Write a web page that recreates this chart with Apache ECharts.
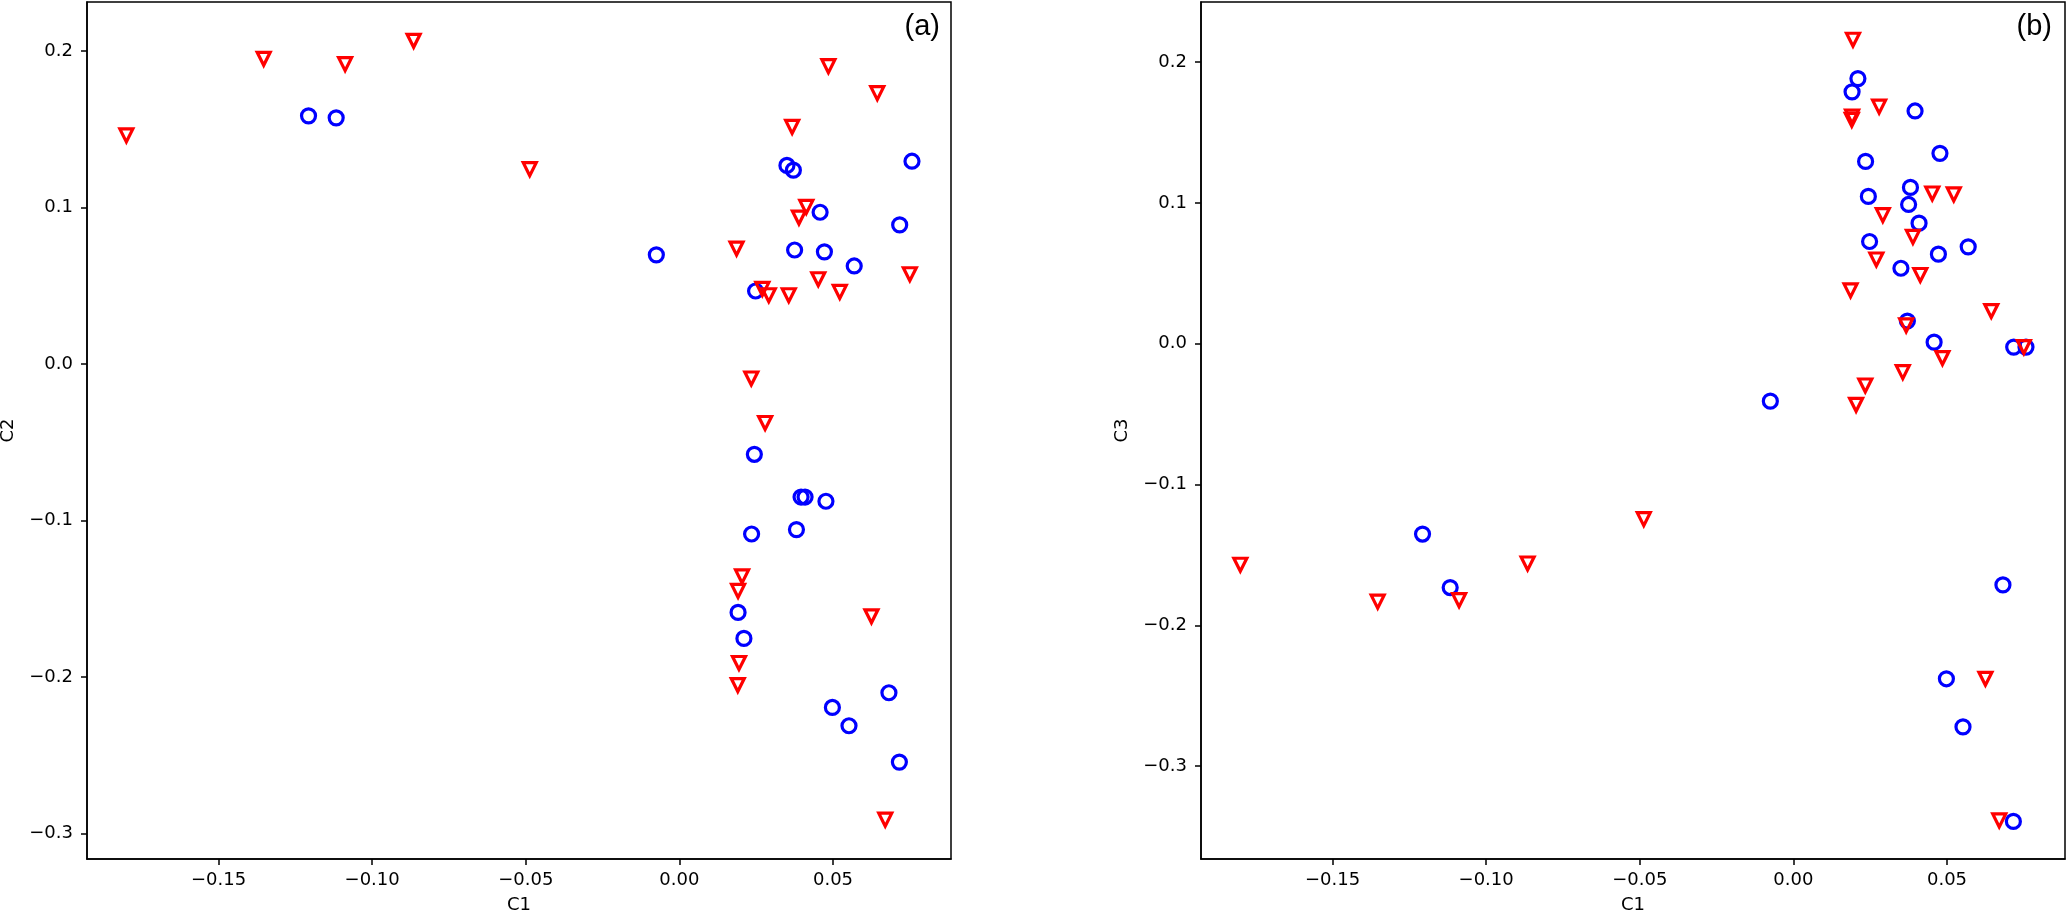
<!DOCTYPE html>
<html>
<head>
<meta charset="utf-8">
<script src="https://cdn.jsdelivr.net/npm/echarts@6/dist/echarts.min.js"></script>
<style>
  html, body { margin: 0; padding: 0; background: #fff; }
  #chart { width: 2067px; height: 915px; }
</style>
</head>
<body>
<div id="chart"></div>
<script>
// blue circles: C1, C2, C3 per sample
var circleC1 = [-0.1207, -0.1117, 0.0757, 0.0350, 0.0371, 0.0458, 0.0717, -0.0075, 0.0375, 0.0472, 0.0569, 0.0248,
                0.0244, 0.0396, 0.0409, 0.0477, 0.0381, 0.0235, 0.0191, 0.0210, 0.0682, 0.0498, 0.0552, 0.0716];
var circleC2 = [0.1585, 0.1572, 0.1295, 0.1268, 0.1238, 0.0969, 0.0888, 0.0697, 0.0728, 0.0716, 0.0626, 0.0466,
                -0.0577, -0.0850, -0.0850, -0.0877, -0.1058, -0.1086, -0.1587, -0.1753, -0.2100, -0.2194, -0.2311, -0.2543];
var circleC3 = [-0.1352, -0.1732, -0.0024, 0.0536, 0.0161, 0.0011, -0.0024, -0.0408, 0.0989, 0.0636, 0.0688, 0.0726,
                0.1046, 0.1653, 0.0856, 0.1352, 0.1110, 0.1295, 0.1789, 0.1883, -0.1713, -0.2380, -0.2722, -0.3393];

// red down-triangles
var triC1 = [-0.1800, -0.1353, -0.1088, -0.0865, -0.0487, 0.0485, 0.0644, 0.0367, 0.0413, 0.0389, 0.0186, 0.0750, 0.0452,
             0.0270, 0.0291, 0.0356, 0.0522, 0.0234, 0.0279, 0.0204, 0.0191, 0.0625, 0.0194, 0.0190, 0.0670];
var triC2 = [0.1460, 0.1949, 0.1915, 0.2064, 0.1244, 0.1902, 0.1730, 0.1514, 0.1003, 0.0935, 0.0737, 0.0573, 0.0541,
             0.0479, 0.0439, 0.0439, 0.0460, -0.0093, -0.0377, -0.1357, -0.1450, -0.1612, -0.1910, -0.2051, -0.2911];
var triC3 = [-0.1570, -0.1832, -0.1822, -0.1561, -0.1246, -0.0102, 0.0232, 0.0130, 0.0488, 0.0759, 0.0379, -0.0024, 0.1067,
             0.0598, 0.0913, -0.0202, 0.1060, -0.0297, 0.1684, -0.0434, 0.1613, -0.2380, 0.2159, 0.1590, -0.3386];

var xTicks = [-0.15, -0.10, -0.05, 0.00, 0.05];
var yTicks = [-0.3, -0.2, -0.1, 0.0, 0.1, 0.2];
var xRange = [-0.1928, 0.0884];
var yRangeA = [-0.3162, 0.2312];
var yRangeB = [-0.3660, 0.2427];

function pairs(xs, ys) {
  return xs.map(function(x, i) { return [x, ys[i]]; });
}
function minus(s) { return s.replace('-', '\u2212'); }

var font = 'DejaVu Sans';
var lineStyle = { color: '#000', width: 1.5 };

function makeX(gi) {
  return {
    type: 'value', gridIndex: gi, min: xRange[0], max: xRange[1],
    name: 'C1', nameLocation: 'middle', nameGap: 37,
    nameTextStyle: { fontFamily: font, fontSize: 18, color: '#000' },
    axisLine: { show: true, onZero: false, lineStyle: lineStyle },
    axisTick: { show: true, length: 6, lineStyle: { color: '#000', width: 1.5 }, customValues: xTicks },
    axisLabel: {
      fontSize: 18, fontFamily: font, color: '#000', margin: 12, customValues: xTicks,
      formatter: function(v) { return minus(v.toFixed(2)); }
    },
    splitLine: { show: false }
  };
}
function makeY(gi, name, range) {
  return {
    type: 'value', gridIndex: gi, min: range[0], max: range[1],
    name: name, nameLocation: 'middle', nameGap: 70,
    nameTextStyle: { fontFamily: font, fontSize: 18, color: '#000' },
    axisLine: { show: true, onZero: false, lineStyle: lineStyle },
    axisTick: { show: true, length: 6, lineStyle: { color: '#000', width: 1.5 }, customValues: yTicks },
    axisLabel: {
      fontSize: 18, fontFamily: font, color: '#000', margin: 14, customValues: yTicks,
      formatter: function(v) { return minus(v.toFixed(1)); }
    },
    splitLine: { show: false }
  };
}

function circles(gi, ys) {
  return {
    type: 'scatter', xAxisIndex: gi, yAxisIndex: gi, data: pairs(circleC1, ys),
    symbol: 'circle', symbolSize: 14, z: 2,
    itemStyle: { color: 'rgba(0,0,0,0)', borderColor: '#0000ff', borderWidth: 3.2, opacity: 1 },
    emphasis: { disabled: true }
  };
}
function triangles(gi, ys) {
  return {
    type: 'scatter', xAxisIndex: gi, yAxisIndex: gi, data: pairs(triC1, ys),
    symbol: 'triangle', symbolRotate: 180, symbolSize: 13, z: 3,
    itemStyle: { color: 'rgba(0,0,0,0)', borderColor: '#ff0000', borderWidth: 3.2, borderJoin: 'miter', opacity: 1 },
    emphasis: { disabled: true }
  };
}

var chart = echarts.init(document.getElementById('chart'), null, { renderer: 'canvas' });
chart.setOption({
  animation: false,
  backgroundColor: '#fff',
  grid: [
    { left: 87, top: 2, width: 864, height: 857, show: true, borderColor: '#000', borderWidth: 1.5, outerBoundsMode: 'none', containLabel: false },
    { left: 1201, top: 2, width: 864, height: 857, show: true, borderColor: '#000', borderWidth: 1.5, outerBoundsMode: 'none', containLabel: false }
  ],
  xAxis: [makeX(0), makeX(1)],
  yAxis: [makeY(0, 'C2', yRangeA), makeY(1, 'C3', yRangeB)],
  series: [
    circles(0, circleC2), triangles(0, triC2),
    circles(1, circleC3), triangles(1, triC3)
  ],
  graphic: [
    { type: 'text', right: 2067 - 940, top: 12, style: { text: '(a)', font: '29px "Liberation Sans", Arial, sans-serif', fill: '#000' } },
    { type: 'text', right: 2067 - 2052, top: 12, style: { text: '(b)', font: '29px "Liberation Sans", Arial, sans-serif', fill: '#000' } }
  ]
});
window.addEventListener('resize', function() { chart.resize(); });
</script>
</body>
</html>
